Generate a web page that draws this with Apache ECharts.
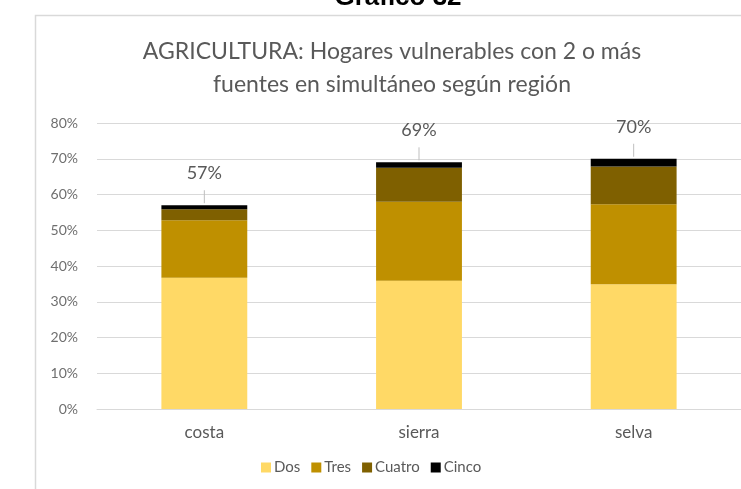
<!DOCTYPE html>
<html>
<head>
<meta charset="utf-8">
<script src="https://cdn.jsdelivr.net/npm/echarts@6/dist/echarts.min.js"></script>
<style>
  html, body { margin: 0; padding: 0; background: #ffffff; }
  #chart { width: 741px; height: 489px; }
</style>
</head>
<body>
<div id="chart"></div>
<script>
// Regions and the share of vulnerable farming households by number of simultaneous sources (%)
var regions = ['costa', 'sierra', 'selva'];
var dos    = [36.7, 35.9, 34.9];
var tres   = [16.1, 22.1, 22.4];
var cuatro = [3.1, 9.5, 10.5];
var cinco  = [1.1, 1.5, 2.2];
var seriesNames = ['Dos', 'Tres', 'Cuatro', 'Cinco'];
var seriesColors = ['#FFD966', '#BF9000', '#7F6000', '#000000'];
var yTicks = [0, 10, 20, 30, 40, 50, 60, 70, 80];

var stacks = [dos, tres, cuatro, cinco];
var totals = regions.map(function (_, i) {
  return stacks.reduce(function (s, arr) { return s + arr[i]; }, 0);
});

var FONT = 'Lato, "Open Sans", sans-serif';
var TEXT = '#595959';

var chart = echarts.init(document.getElementById('chart'), null, { renderer: 'canvas' });

var barSeries = stacks.map(function (arr, k) {
  return {
    name: seriesNames[k],
    type: 'bar',
    stack: 'total',
    data: arr,
    barCategoryGap: '60%',
    itemStyle: { color: seriesColors[k] },
    emphasis: { disabled: true },
    z: 3
  };
});

// total label with a short leader line above each stacked column
var totalSeries = {
  type: 'custom',
  name: 'total',
  data: totals.map(function (t, i) { return [i, t]; }),
  z: 5,
  silent: true,
  renderItem: function (params, api) {
    var p = api.coord([api.value(0), api.value(1)]);
    return {
      type: 'group',
      children: [
        {
          type: 'line',
          shape: { x1: p[0], y1: p[1] - 2, x2: p[0], y2: p[1] - 15 },
          style: { stroke: '#BFBFBF', lineWidth: 1 }
        },
        {
          type: 'text',
          x: p[0],
          y: p[1] - 32,
          style: {
            text: Math.round(api.value(1)) + '%',
            textAlign: 'center',
            textVerticalAlign: 'middle',
            font: '18px ' + FONT,
            fill: TEXT
          }
        }
      ]
    };
  }
};

chart.setOption({
  animation: false,
  backgroundColor: '#ffffff',
  graphic: [
    {
      // page heading, sitting just above the top edge
      type: 'text',
      x: 398,
      y: 11,
      style: {
        text: 'Gráfico 32',
        textAlign: 'center',
        textVerticalAlign: 'bottom',
        font: 'bold 26px "Liberation Sans", Arial, sans-serif',
        fill: '#000000'
      }
    },
    {
      type: 'rect',
      shape: { x: 35.5, y: 15.5, width: 760, height: 520 },
      style: { fill: 'none', stroke: '#D9D9D9', lineWidth: 1.5 },
      z: -1
    },
    {
      type: 'text',
      x: 392,
      y: 68,
      style: {
        text: 'AGRICULTURA: Hogares vulnerables con 2 o más\nfuentes en simultáneo según región',
        textAlign: 'center',
        textVerticalAlign: 'middle',
        font: '23px ' + FONT,
        lineHeight: 33,
        fill: TEXT
      }
    }
  ],
  legend: {
    data: seriesNames,
    left: 256,
    top: 455,
    icon: 'rect',
    itemWidth: 10,
    itemHeight: 10,
    itemGap: 11,
    textStyle: { fontFamily: FONT, fontSize: 15, color: TEXT, padding: [0, 0, 0, -2] },
    selectedMode: false
  },
  grid: { left: 97, top: 123, width: 651, height: 286, containLabel: false },
  xAxis: {
    type: 'category',
    data: regions,
    axisLine: { lineStyle: { color: '#D9D9D9', width: 1 } },
    axisTick: { show: false },
    axisLabel: { fontFamily: FONT, fontSize: 17, color: TEXT, margin: 15 }
  },
  yAxis: {
    type: 'value',
    min: yTicks[0],
    max: yTicks[yTicks.length - 1],
    interval: yTicks[1] - yTicks[0],
    axisLine: { show: false },
    axisTick: { show: false },
    splitLine: { lineStyle: { color: '#D9D9D9', width: 1 } },
    axisLabel: {
      fontFamily: FONT, fontSize: 14, color: '#6f6f6f', margin: 19,
      formatter: function (v) { return v + '%'; }
    }
  },
  series: barSeries.concat([totalSeries])
});
</script>
</body>
</html>
